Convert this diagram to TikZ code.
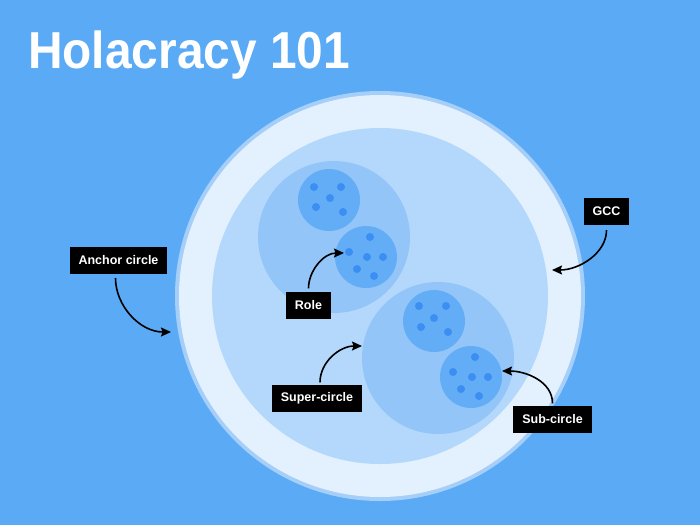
\documentclass[tikz,border=0pt]{standalone}
\usepackage{fontspec}
\setmainfont{Liberation Sans}
\newfontfamily\titlefont[FakeStretch=0.92]{Liberation Sans}
\usetikzlibrary{arrows.meta}

\definecolor{skyblue}{HTML}{5BAAF5}
\definecolor{rimblue}{HTML}{A5CFF8}
\definecolor{paleblue}{HTML}{E3F0FD}
\definecolor{gccblue}{HTML}{B3D8FB}
\definecolor{superblue}{HTML}{93C5F8}
\definecolor{roleblue}{HTML}{63ADF6}
\definecolor{dotblue}{HTML}{3B8EF2}

\tikzset{
	tag/.style={fill=black, text=white, font=\bfseries\fontsize{12.5}{12.5}\selectfont, inner xsep=9pt, inner ysep=0pt, minimum height=27pt},
	pointer/.style={-{Stealth[length=10pt, width=9pt, inset=1.5pt]}, line width=1.6pt},
	dot/.style={fill=dotblue},
}

\begin{document}
\begin{tikzpicture}[x=1pt, y=-1pt]
		\useasboundingbox (0,0) rectangle (700,525);
		\fill[skyblue] (0,0) rectangle (700,525);
		
		% Title
		\node[anchor=base west, inner sep=0pt, text=white, font=\titlefont\bfseries\fontsize{52}{52}\selectfont] (title) at (28,68) {Holacracy 101};
		
		% Anchor circle and GCC
		\fill[rimblue] (380,296) circle (205pt);
		\fill[paleblue] (380,296) circle (201pt);
		\fill[gccblue] (380,296) circle (168pt);
		
		% Super-circles
		\fill[superblue] (334,237) circle (76pt);
		\fill[superblue] (438,358) circle (76pt);
		
		% Roles
		\fill[roleblue] (329,200) circle (31pt);
		\fill[roleblue] (366,257) circle (31pt);
		\fill[roleblue] (434,321) circle (31pt);
		\fill[roleblue] (471,377) circle (31pt);
		
		% Dots
		\fill[dot] (314,187) circle (4pt) (341,187) circle (4pt) (330,198) circle (4pt) (316,207) circle (4pt) (343,212) circle (4pt);
		\fill[dot] (370,237) circle (4pt) (349,252) circle (4pt) (367,257) circle (4pt) (383,257) circle (4pt) (357,269) circle (4pt) (374,276) circle (4pt);
		\fill[dot] (419,306) circle (4pt) (446,306) circle (4pt) (434,318) circle (4pt) (421,327) circle (4pt) (448,332) circle (4pt);
		\fill[dot] (475,357) circle (4pt) (453,372) circle (4pt) (472,377) circle (4pt) (488,377) circle (4pt) (461,389) circle (4pt) (479,396) circle (4pt);
		
		% Labels
		\node[tag] (anchor) at (118.5,260.5) {Anchor circle};
		\node[tag] (gcc) at (606.5,211.5) {GCC};
		\node[tag] (role) at (308.5,305) {Role};
		\node[tag] (super) at (317,398) {Super-circle};
		\node[tag] (sub) at (552.5,419) {Sub-circle};
		
		% Arrow tips
		\coordinate (anchortip) at (171,332);
		\coordinate (gcctip) at (552,270);
		\coordinate (roletip) at (344,253);
		\coordinate (supertip) at (362,346);
		\coordinate (subtip) at (502,371);
		
		% Arrows
		\draw[pointer, shorten <=4pt] ([xshift=-3pt]anchor.south) to[out=-90, in=180] (anchortip);
		\draw[pointer, shorten <=5pt] (gcc.south) to[out=-90, in=0] (gcctip);
		\draw[pointer, shorten <=3pt] (role.north) to[out=90, in=180] (roletip);
		\draw[pointer, shorten <=2pt] ([xshift=3pt]super.north) to[out=90, in=180] (supertip);
		\draw[pointer, shorten <=2pt] (sub.north) to[out=90, in=0] (subtip);
	\end{tikzpicture}
\end{document}
